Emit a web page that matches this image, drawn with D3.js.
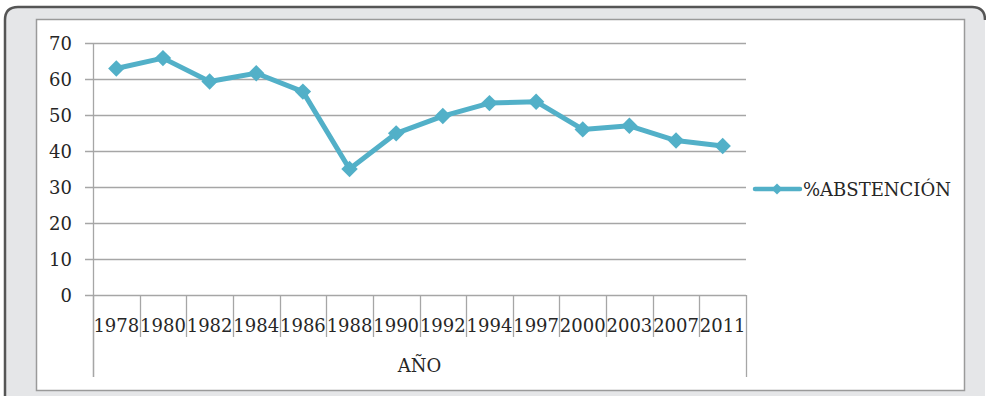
<!DOCTYPE html>
<html>
<head>
<meta charset="utf-8">
<script src="https://cdn.jsdelivr.net/npm/d3@7/dist/d3.min.js"></script>
<style>
  html, body { margin: 0; padding: 0; background: #ffffff; }
  svg { display: block; }
  text { font-family: "DejaVu Serif", "Liberation Serif", serif; fill: #262626; }
</style>
</head>
<body>
<svg id="chart" width="986" height="396"></svg>
<script>
// Election years and the abstention percentage for each
const years = ["1978", "1980", "1982", "1984", "1986", "1988", "1990",
               "1992", "1994", "1997", "2000", "2003", "2007", "2011"];
const abstention = [62.9, 65.8, 59.3, 61.6, 56.5, 35.0, 44.9,
                    49.7, 53.3, 53.7, 46.0, 47.0, 42.9, 41.4];
const yTicks = [0, 10, 20, 30, 40, 50, 60, 70];
const seriesName = "%ABSTENCIÓN";
const axisTitle = "AÑO";

const svg = d3.select("#chart");
const lineColor = "#52b0c8";
const gridColor = "#a6a6a6";

// Outer frame: light grey panel with a dark rounded edge on top and left
svg.append("path")
  .attr("d", "M5,398 L5,20 Q5,7 18,7 L972,7 Q985,7 985,20 L985,398 Z")
  .attr("fill", "#e5e6e8")
  .attr("stroke", "none");
svg.append("path")
  .attr("d", "M5,396 L5,20 Q5,7 18,7 L972,7 Q985,7 985,20")
  .attr("fill", "none")
  .attr("stroke", "#555555")
  .attr("stroke-width", 2.5);

// Inner white chart area
svg.append("rect")
  .attr("x", 36.5).attr("y", 19.5)
  .attr("width", 928).attr("height", 371)
  .attr("fill", "#ffffff")
  .attr("stroke", "#9a9a9a")
  .attr("stroke-width", 1.5);

const plot = { left: 93, right: 746, top: 43, bottom: 295 };

const x = d3.scaleBand().domain(years).range([plot.left, plot.right]).padding(0);
const y = d3.scaleLinear().domain([0, 70]).range([plot.bottom, plot.top]);

// Horizontal gridlines with short ticks left of the axis
svg.append("g").selectAll("line")
  .data(yTicks)
  .join("line")
  .attr("x1", plot.left - 8).attr("x2", plot.right)
  .attr("y1", d => Math.round(y(d)) + 0.5).attr("y2", d => Math.round(y(d)) + 0.5)
  .attr("stroke", gridColor)
  .attr("stroke-width", 1.3);

// Y tick labels
svg.append("g").selectAll("text")
  .data(yTicks)
  .join("text")
  .attr("x", 72)
  .attr("y", d => y(d) + 6.5)
  .attr("text-anchor", "end")
  .attr("font-size", 18)
  .text(d => d);

// Vertical axis line
svg.append("line")
  .attr("x1", plot.left + 0.5).attr("x2", plot.left + 0.5)
  .attr("y1", plot.top).attr("y2", 377)
  .attr("stroke", gridColor).attr("stroke-width", 1.3);

// Category separators below the baseline
const bounds = years.map(d => x(d)).concat([plot.right]);
svg.append("g").selectAll("line")
  .data(bounds)
  .join("line")
  .attr("x1", d => Math.round(d) + 0.5).attr("x2", d => Math.round(d) + 0.5)
  .attr("y1", plot.bottom)
  .attr("y2", (d, i) => (i === 0 || i === bounds.length - 1) ? 377 : 337)
  .attr("stroke", gridColor)
  .attr("stroke-width", 1.3);

// X tick labels
svg.append("g").selectAll("text")
  .data(years)
  .join("text")
  .attr("x", d => x(d) + x.bandwidth() / 2)
  .attr("y", 332)
  .attr("text-anchor", "middle")
  .attr("font-size", 18)
  .text(d => d);

// Axis title
svg.append("text")
  .attr("x", (plot.left + plot.right) / 2)
  .attr("y", 372)
  .attr("text-anchor", "middle")
  .attr("font-size", 18)
  .text(axisTitle);

// Series line
const pts = years.map((d, i) => [x(d) + x.bandwidth() / 2, y(abstention[i])]);
svg.append("path")
  .attr("d", d3.line()(pts))
  .attr("fill", "none")
  .attr("stroke", lineColor)
  .attr("stroke-width", 5)
  .attr("stroke-linejoin", "round");

// Diamond markers
const diamond = d3.symbol().type(d3.symbolSquare).size(135);
svg.append("g").selectAll("path")
  .data(pts)
  .join("path")
  .attr("d", diamond)
  .attr("transform", d => `translate(${d[0]},${d[1]}) rotate(45)`)
  .attr("fill", lineColor);

// Legend
const legend = svg.append("g");
legend.append("line")
  .attr("x1", 755).attr("x2", 800)
  .attr("y1", 189).attr("y2", 189)
  .attr("stroke", lineColor).attr("stroke-width", 4.5)
  .attr("stroke-linecap", "round");
legend.append("path")
  .attr("d", d3.symbol().type(d3.symbolSquare).size(60))
  .attr("transform", "translate(777,189) rotate(45)")
  .attr("fill", lineColor);
legend.append("text")
  .attr("x", 803).attr("y", 195.5)
  .attr("font-size", 18)
  .text(seriesName);
</script>
</body>
</html>
